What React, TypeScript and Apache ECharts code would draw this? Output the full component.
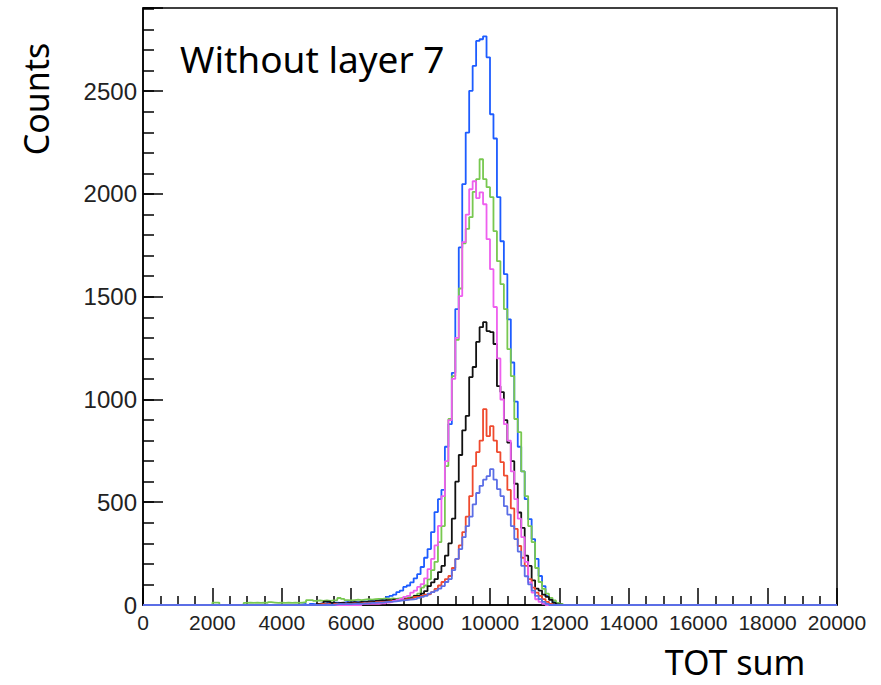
import React, { useEffect, useRef } from "react";
import * as echarts from "echarts";

// Histogram bin width and axis range
const BIN_WIDTH = 100;
const X_MIN = 0;
const X_MAX = 20000;
const Y_MAX = 2905;

// Each series: first bin start (TOT sum) and counts per 100-wide bin
const blueStart = 4500;
const blueCounts = [
  3, 5, 0, 5, 3, 5, 8, 5, 10, 8, 12, 10, 12, 15, 12, 15, 14, 12, 18, 15, 20, 22, 25, 28, 30,
  40, 44, 50, 63, 70, 88, 95, 110, 130, 150, 185, 230, 272, 355, 452, 515, 560, 770, 880, 1130,
  1440, 1740, 2048, 2299, 2502, 2623, 2745, 2753, 2767, 2665, 2388, 2270, 1985, 1770, 1610,
  1390, 1180, 990, 770, 650, 515, 418, 321, 224, 141, 92, 44, 29, 15, 5, 2,
];

const greenStart = 2000;
const greenCounts = [
  12, 12, 0, 0, 0, 0, 0, 0, 0, 10, 12, 10, 12, 10, 12, 10, 14, 12, 10, 12, 10, 12, 10, 12, 10,
  12, 14, 24, 24, 20, 22, 20, 22, 20, 22, 24, 34, 30, 24, 22, 24, 26, 24, 26, 28, 26, 28, 30,
  30, 32, 30, 32, 30, 32, 34, 35, 38, 40, 45, 55, 85, 95, 125, 170, 210, 306, 384, 676, 905,
  1114, 1290, 1540, 1760, 1830, 1887, 2010, 2072, 2169, 2072, 2033, 1985, 1819, 1673, 1561,
  1440, 1245, 1114, 905, 841, 650, 530, 384, 306, 180, 112, 78, 55, 35, 22, 10, 5,
];

const magentaStart = 6300;
const magentaCounts = [
  5, 5, 5, 6, 5, 8, 8, 12, 15, 20, 25, 30, 40, 44, 60, 70, 88, 102, 130, 175, 224, 290, 385,
  530, 700, 900, 1100, 1300, 1503, 1766, 1900, 2023, 2062, 1980, 2008, 1950, 1780, 1634, 1450,
  1200, 1000, 880, 800, 650, 515, 420, 330, 210, 110, 60, 28, 15, 5,
];

const blackStart = 5000;
const blackCounts = [
  5, 8, 16, 16, 10, 8, 10, 12, 8, 12, 14, 12, 15, 14, 16, 18, 16, 20, 22, 20, 24, 22, 26, 25,
  28, 30, 32, 35, 44, 44, 55, 68, 92, 110, 126, 160, 190, 240, 300, 420, 600, 730, 850, 920,
  1109, 1158, 1280, 1352, 1376, 1333, 1328, 1270, 1065, 1036, 900, 790, 700, 590, 450, 375,
  240, 190, 120, 80, 70, 50, 40, 25, 10, 3,
];

const redStart = 5000;
const redCounts = [
  3, 5, 3, 5, 0, 5, 3, 5, 6, 5, 8, 5, 8, 10, 8, 12, 10, 14, 15, 15, 18, 20, 22, 22, 25, 28,
  29, 32, 39, 39, 44, 50, 53, 63, 78, 95, 112, 126, 141, 180, 224, 290, 355, 430, 530, 676,
  744, 800, 953, 822, 870, 800, 744, 695, 630, 560, 470, 370, 287, 230, 190, 126, 85, 60, 44,
  29, 15, 5,
];

const slateStart = 5500;
const slateCounts = [
  3, 5, 4, 5, 4, 5, 6, 5, 8, 8, 10, 10, 12, 12, 14, 15, 16, 18, 20, 22, 24, 26, 28, 30, 35,
  40, 44, 55, 63, 70, 80, 92, 112, 126, 170, 224, 272, 330, 384, 430, 490, 545, 580, 610, 627,
  661, 610, 564, 530, 481, 440, 384, 321, 260, 190, 140, 100, 70, 44, 29, 15, 5,
];

const xTicks = [0, 2000, 4000, 6000, 8000, 10000, 12000, 14000, 16000, 18000, 20000];

function histPoints(start: number, counts: number[]): number[][] {
  const nBins = Math.round((X_MAX - X_MIN) / BIN_WIDTH);
  const firstBin = Math.round((start - X_MIN) / BIN_WIDTH);
  const pts: number[][] = [];
  for (let i = 0; i < nBins; i++) {
    const k = i - firstBin;
    const v = k >= 0 && k < counts.length ? counts[k] : 0;
    pts.push([X_MIN + i * BIN_WIDTH, v]);
  }
  pts.push([X_MAX, 0]);
  return pts;
}

const seriesDefs = [
  { name: "blue", color: "#1d5cff", start: blueStart, counts: blueCounts },
  { name: "green", color: "#78c850", start: greenStart, counts: greenCounts },
  { name: "black", color: "#111111", start: blackStart, counts: blackCounts },
  { name: "red", color: "#ef4a2e", start: redStart, counts: redCounts },
  { name: "magenta", color: "#ee5fee", start: magentaStart, counts: magentaCounts },
  { name: "slate", color: "#5b6ee6", start: slateStart, counts: slateCounts },
];

export default function App() {
  const ref = useRef<HTMLDivElement>(null);
  useEffect(() => {
    if (!ref.current) return;
    const chart = echarts.init(ref.current, null, { renderer: "svg" });
    const labelFont = "'Liberation Sans', Arial, Helvetica, sans-serif";
    chart.setOption({
      animation: false,
      backgroundColor: "#ffffff",
      grid: {
        left: 143,
        right: 44,
        top: 8,
        bottom: 80,
        show: true,
        borderColor: "#000",
        borderWidth: 1.5,
        backgroundColor: "transparent",
      },
      xAxis: {
        type: "value",
        min: X_MIN,
        max: X_MAX,
        interval: 2000,
        axisLine: { show: true, lineStyle: { color: "#000", width: 1.5 } },
        axisTick: { show: true, inside: true, length: 17, lineStyle: { color: "#000", width: 1.5 } },
        minorTick: { show: true, splitNumber: 4, length: 9, lineStyle: { color: "#000", width: 1.5 } },
        splitLine: { show: false },
        minorSplitLine: { show: false },
        axisLabel: {
          show: true,
          margin: 7,
          fontSize: 21,
          fontFamily: labelFont,
          color: "#222",
          formatter: (v: number) => (xTicks.indexOf(v) >= 0 ? String(v) : ""),
          showMinLabel: true,
          showMaxLabel: true,
          hideOverlap: false,
        },
      },
      yAxis: [
        {
          type: "value",
          min: 0,
          max: Y_MAX,
          interval: 500,
          axisLine: { show: true, lineStyle: { color: "#000", width: 1.5 } },
          axisTick: { show: true, inside: true, length: 20, lineStyle: { color: "#000", width: 1.5 } },
          splitLine: { show: false },
          axisLabel: {
            show: true,
            margin: 6,
            fontSize: 24,
            fontFamily: labelFont,
            color: "#222",
            formatter: (v: number) => (v % 500 === 0 ? String(v) : ""),
          },
        },
        {
          type: "value",
          min: 0,
          max: Y_MAX,
          interval: 100,
          position: "left",
          axisLine: { show: false },
          axisTick: { show: true, inside: true, length: 11, lineStyle: { color: "#000", width: 1.5 } },
          splitLine: { show: false },
          axisLabel: { show: false },
        },
      ],
      series: seriesDefs.map((s) => ({
        name: s.name,
        type: "line",
        step: "end",
        yAxisIndex: 0,
        data: histPoints(s.start, s.counts),
        showSymbol: false,
        symbol: "none",
        lineStyle: { color: s.color, width: 1.8 },
        itemStyle: { color: s.color },
      })),
      graphic: [
        {
          type: "text",
          x: 36,
          y: 99,
          rotation: Math.PI / 2,
          style: {
            text: "Counts",
            fontSize: 34,
            fontFamily: "'Noto Sans', sans-serif",
            fill: "#000",
            align: "center",
            verticalAlign: "middle",
          },
        },
        {
          type: "text",
          x: 180,
          y: 58,
          style: {
            text: "Without layer 7",
            fontSize: 37,
            fontFamily: "'Noto Sans', sans-serif",
            fill: "#000",
            align: "left",
            verticalAlign: "middle",
          },
        },
        {
          type: "text",
          x: 735,
          y: 662,
          style: {
            text: "TOT sum",
            fontSize: 34,
            lineHeight: 34,
            fontFamily: "'Noto Sans', sans-serif",
            fill: "#000",
            align: "center",
            verticalAlign: "middle",
          },
        },
      ],
    });
    return () => chart.dispose();
  }, []);
  return <div ref={ref} style={{ width: 881, height: 685, position: "absolute", left: 0, top: 0 }} />;
}
